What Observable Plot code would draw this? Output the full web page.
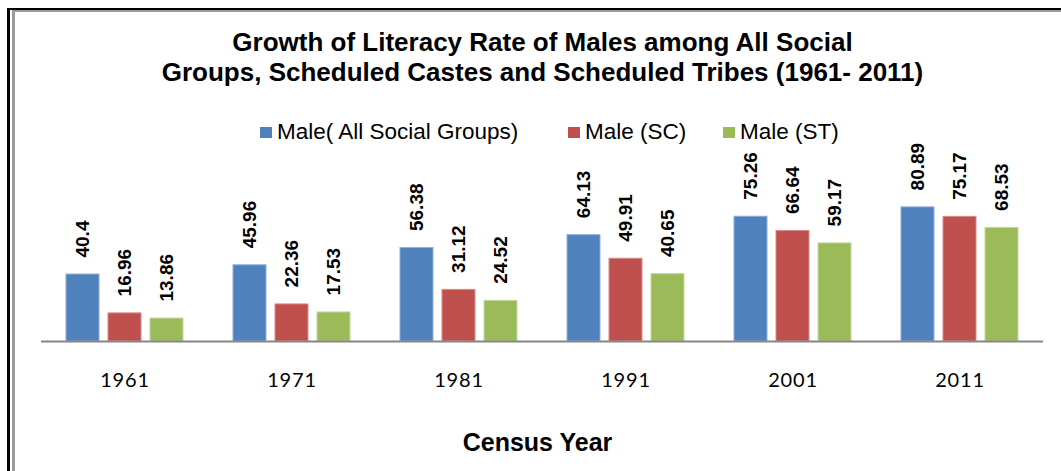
<!DOCTYPE html>
<html>
<head>
<meta charset="utf-8">
<script src="https://cdn.jsdelivr.net/npm/d3@7"></script>
<script src="https://cdn.jsdelivr.net/npm/@observablehq/plot@0.6"></script>
<style>
  html, body { margin: 0; padding: 0; background: #fff; }
  #wrap { position: relative; width: 1061px; height: 471px; overflow: hidden; font-family: "Liberation Sans", Arial, sans-serif; }
  .b1 { position: absolute; left: 7px; top: 8px; width: 2000px; height: 2000px; border-left: 3px solid #000; border-top: 2px solid #000; }
  .b2 { position: absolute; left: 12px; top: 10px; width: 2000px; height: 2000px; border-left: 3px solid #9a9a9a; border-top: 2px solid #9a9a9a; }
  #title { position: absolute; left: 0; width: 1085px; top: 27px; text-align: center; font-weight: bold; font-size: 26px; line-height: 30px; color: #000; }
  #legend { position: absolute; left: 0; top: 119px; font-size: 22.5px; color: #000; white-space: nowrap; }
  #legend span.item { position: absolute; top: 0; }
  #legend span.item:nth-child(1) { left: 260px; }
  #legend span.item:nth-child(2) { left: 568px; }
  #legend span.item:nth-child(3) { left: 723px; }
  #legend span.sw { display: inline-block; width: 12px; height: 11px; margin-right: 5px; vertical-align: 1px; }
  #chart { position: absolute; left: 0; top: 140px; }
  #xtitle { position: absolute; left: 0; width: 1075px; top: 428px; text-align: center; font-weight: bold; font-size: 25px; color: #000; }
</style>
</head>
<body>
<div id="wrap">
  <div class="b1"></div>
  <div class="b2"></div>
  <div id="title">Growth of Literacy Rate of Males among All Social<br>Groups, Scheduled Castes and Scheduled Tribes (1961- 2011)</div>
  <div id="legend"></div>
  <div id="chart"></div>
  <div id="xtitle">Census Year</div>
</div>
<script>
const years = ["1961", "1971", "1981", "1991", "2001", "2011"];
const seriesNames = ["Male( All Social Groups)", "Male (SC)", "Male (ST)"];
const allGroups = [40.4, 45.96, 56.38, 64.13, 75.26, 80.89];
const scValues = [16.96, 22.36, 31.12, 49.91, 66.64, 75.17];
const stValues = [13.86, 17.53, 24.52, 40.65, 59.17, 68.53];
const colors = ["#4F81BD", "#C0504D", "#9BBB59"];
const strokes = ["#8EAEDB", "#DA8A88", "#C3D99C"];

const seriesValues = [allGroups, scValues, stValues];
const data = [];
years.forEach((yr, i) => {
  seriesNames.forEach((s, j) => {
    data.push({year: yr, series: s, value: seriesValues[j][i]});
  });
});

// legend
const legend = document.getElementById("legend");
seriesNames.forEach((s, j) => {
  const item = document.createElement("span");
  item.className = "item";
  const sw = document.createElement("span");
  sw.className = "sw";
  sw.style.background = colors[j];
  item.appendChild(sw);
  item.appendChild(document.createTextNode(s));
  legend.appendChild(item);
});

const chart = Plot.plot({
  width: 1061,
  height: 270,
  marginLeft: 40,
  marginRight: 18,
  marginTop: 35.2,
  marginBottom: 69,
  style: {overflow: "visible", background: "transparent"},
  fx: {domain: years, padding: 0, label: null},
  x: {domain: seriesNames, paddingInner: 0.214, paddingOuter: 0.595, axis: null},
  y: {domain: [0, 100], axis: null},
  color: {domain: seriesNames, range: colors},
  marks: [
    Plot.barY(data, {
      fx: "year", x: "series", y: "value", fill: "series",
      stroke: d => strokes[seriesNames.indexOf(d.series)], strokeWidth: 1
    }),
    Plot.text(data, {
      fx: "year", x: "series", y: "value", text: d => String(d.value),
      rotate: -90, textAnchor: "start", lineAnchor: "middle", dy: -17,
      fontWeight: "bold", fontSize: 19, fill: "#000",
      fontFamily: "Liberation Sans, Arial, sans-serif"
    }),
    Plot.ruleY([0], {stroke: "#868686", strokeWidth: 2}),
    Plot.axisFx({
      anchor: "bottom", tickSize: 0, tickPadding: 31, label: null,
      fontSize: 20, fontFamily: "Lato, sans-serif", fill: "#000"
    })
  ]
});
chart.querySelectorAll("[aria-label='fx-axis tick label'] text").forEach(t => t.style.letterSpacing = "0.8px");
document.getElementById("chart").appendChild(chart);
</script>
</body>
</html>
